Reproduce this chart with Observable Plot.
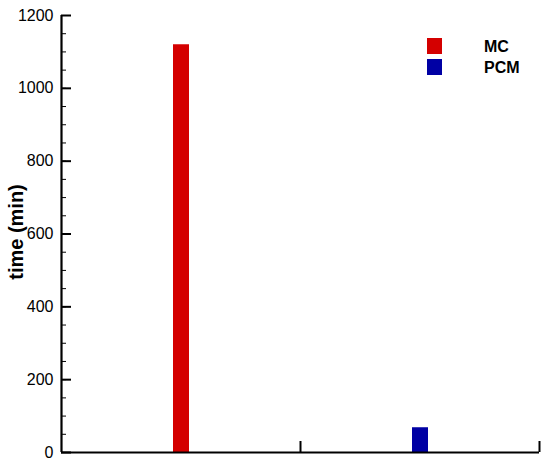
<!DOCTYPE html>
<html><head>
<meta charset="utf-8">
<script src="https://cdn.jsdelivr.net/npm/d3@7"></script>
<script src="https://cdn.jsdelivr.net/npm/@observablehq/plot@0.6"></script>
<style>
body{margin:0;background:#fff}
#wrap{position:relative;width:550px;height:465px;font-family:"Liberation Sans",Arial,sans-serif}
.lg{position:absolute;font-weight:bold;font-size:16px;line-height:1;color:#000}
.sw{position:absolute;width:15px;height:16px}
</style>
</head><body><div id="wrap"></div>
<script>
const categories = ["MC", "PCM"];
const positions = [0.5, 1.5];
const values = [1120, 68];
const colors = ["#d40000", "#0000a4"];
const yMajorTicks = [0, 200, 400, 600, 800, 1000, 1200];
const yMinorTicks = [0, 50, 100, 150, 200, 250, 300, 350, 400, 450, 500, 550, 600, 650, 700, 750, 800, 850, 900, 950, 1000, 1050, 1100, 1150, 1200];
const xTicks = [1, 2];
const yLabel = "time (min)";

const W = 550, H = 465, mL = 61, mR = 11, mT = 15, mB = 13;
const frameW = W - mL - mR, frameH = H - mT - mB;

const data = categories.map((c, i) => ({c, x: positions[i], v: values[i], color: colors[i]}));

const chart = Plot.plot({
  width: W, height: H,
  marginLeft: mL, marginRight: mR, marginTop: mT, marginBottom: mB,
  x: {domain: [0, 2], axis: null},
  y: {domain: [0, 1200], axis: null},
  style: {fontFamily: '"Liberation Sans", Arial, sans-serif', fontSize: "16px", color: "#000", background: "#fff"},
  marks: [
    Plot.ruleX(data, {x: "x", y1: 0, y2: "v", stroke: "color", strokeWidth: 16}),
    Plot.ruleY([0], {stroke: "#000", strokeWidth: 2.2}),
    Plot.ruleX([0], {stroke: "#000", strokeWidth: 2.2}),
    Plot.axisY(yMajorTicks, {anchor: "left", tickSize: 0, tickPadding: 8, fontSize: 16, fill: "#000", label: null, tickFormat: d => String(d)}),
    Plot.tickY(yMajorTicks, {y: d => d, insetRight: frameW - 10, stroke: "#000", strokeWidth: 2}),
    Plot.tickY(yMinorTicks, {y: d => d, insetRight: frameW - 5, stroke: "#000", strokeWidth: 1}),
    Plot.tickX(xTicks, {x: d => d, insetTop: frameH - 11, stroke: "#000", strokeWidth: 2})
  ]
});
const wrap = document.getElementById("wrap");
wrap.appendChild(chart);

d3.select(chart).append("text")
  .attr("transform", "translate(23,232) rotate(-90)")
  .attr("text-anchor", "middle")
  .attr("font-weight", "bold")
  .attr("font-size", 20)
  .attr("fill", "#000")
  .text(yLabel);

const swTops = [38, 59];
const txTops = [39, 60];
categories.forEach((c, i) => {
  const s = document.createElement("div");
  s.className = "sw"; s.style.left = "427px"; s.style.top = swTops[i] + "px"; s.style.background = colors[i];
  wrap.appendChild(s);
  const t = document.createElement("div");
  t.className = "lg"; t.style.left = "484px"; t.style.top = txTops[i] + "px"; t.textContent = c;
  wrap.appendChild(t);
});
</script>
</body></html>
